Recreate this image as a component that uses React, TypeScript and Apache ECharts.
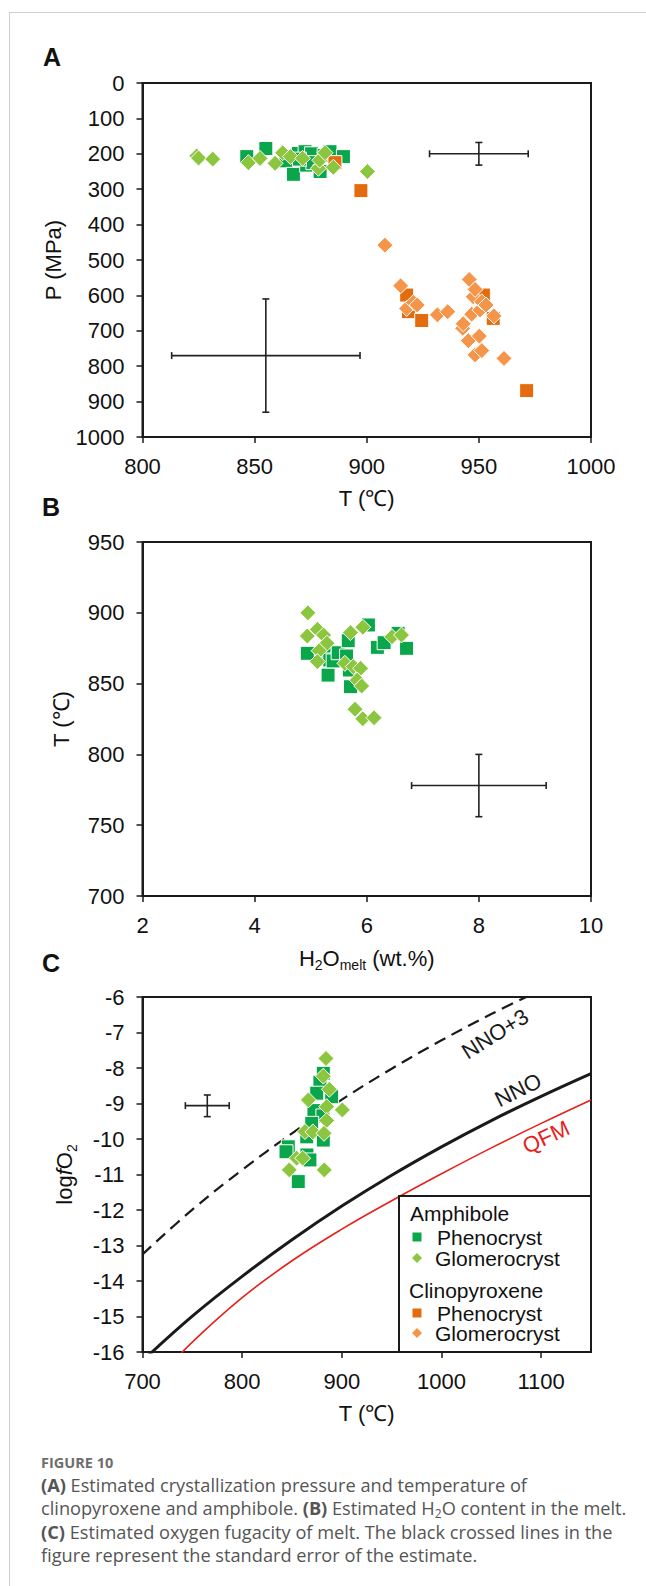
import React, { useEffect, useRef } from 'react';
import * as echarts from 'echarts';

// ---------- Panel A: T (°C) vs P (MPa) ----------
const A_amphPheno = [[846.5,208],[855,185],[864,220],[867.3,258],[869.5,199],[872.5,194],[873.2,232],[875.4,200],[876,225],[879.2,250],[881,205],[883.6,194],[889.6,208],[870,215]];
const A_amphGlom = [[824.2,206],[825,212],[831.3,215],[847.2,225],[852.4,213],[859.1,227],[862.5,197],[866,208],[871.4,213],[878.4,241],[879,218],[881.4,197],[885.1,238],[900.3,250]];
const A_cpxPheno = [[885.8,225],[897.4,304],[917.8,599],[918.6,646],[924.5,671],[952,599],[956.4,665],[971.3,869]];
const A_cpxGlom = [[908.1,458],[915.1,573],[917.8,637],[920.8,620],[922.5,627],[931.5,655],[936.1,646],[942.8,693],[943,680],[945.3,728],[945.7,555],[946.8,653],[947.5,604],[948.3,583],[948.3,768],[950.2,715],[950.5,641],[951.3,618],[951.3,756],[953.2,627],[956.7,658],[961.2,778]];
// [x, y, xLow, xHigh, yLow, yHigh]
const A_errors = [[855,770,813,897,610,930],[950,200,928,972,168,232]];

// ---------- Panel B: H2O melt (wt.%) vs T ----------
const B_amphPheno = [[4.94,871.4],[5.24,872.5],[5.31,856],[5.34,866.7],[5.4,866],[5.49,871.8],[5.64,869.5],[5.67,880.3],[5.69,859.6],[5.71,847.8],[6.03,891.4],[6.19,875.6],[6.31,878.9],[6.56,885.5],[6.71,874.9]];
const B_amphGlom = [[4.95,900],[4.94,883.6],[5.12,888.3],[5.23,884.3],[5.29,878.5],[5.15,873.2],[5.12,865.5],[5.71,886],[5.93,889.8],[5.61,864.3],[5.76,862],[5.89,860.8],[5.83,852.5],[5.91,848.3],[5.79,831.9],[5.93,825.2],[6.13,825.9],[6.45,883.1],[6.62,884.3]];
const B_errors = [[8,778,6.8,9.2,756,800]];

// ---------- Panel C: T vs log fO2 ----------
const C_amphPheno = [[881.4,-8.15],[878,-8.4],[874.8,-8.71],[889.8,-8.81],[872,-9.2],[881,-9.35],[869.8,-9.56],[864.8,-9.94],[881.4,-10.03],[846.3,-10.22],[844,-10.36],[865,-10.45],[868,-10.59],[856.3,-11.2]];
const C_amphGlom = [[884.1,-7.73],[881.4,-8.23],[887.4,-8.6],[866.4,-8.9],[884.8,-9.09],[900.5,-9.18],[884.8,-9.48],[863,-9.79],[871,-9.8],[882.1,-9.84],[854.7,-10.54],[860.7,-10.54],[847.3,-10.87],[882.4,-10.87]];
const C_errors = [[765,-9.06,743,787,-8.76,-9.37]];
const NNO3 = [[700,-13.25],[750,-11.99],[800,-10.87],[850,-9.84],[900,-8.89],[950,-8.02],[1000,-7.22],[1050,-6.48],[1100,-5.8]];
const NNO = [[700,-16.25],[750,-14.99],[800,-13.87],[850,-12.84],[900,-11.89],[950,-11.02],[1000,-10.22],[1050,-9.48],[1100,-8.8],[1150,-8.16]];
const QFM = [[720,-16.6],[750,-15.72],[800,-14.47],[850,-13.43],[900,-12.54],[950,-11.74],[1000,-10.98],[1050,-10.25],[1100,-9.56],[1150,-8.9]];

const aTicksX = [800, 1000, 50];
const aTicksY = [0, 1000, 100];
const bTicksX = [2, 10, 2];
const bTicksY = [700, 950, 50];
const cTicksX = [700, 1150, 100];
const cTicksY = [-16, -6, 1];

const COL_AP = '#0aa64b';
const COL_AG = '#8cc63f';
const COL_CP = '#e46c0e';
const COL_CG = '#f5954a';
const FONT = '"Liberation Sans", Arial, sans-serif';
const INK = '#1a1a1a';

const GL = 142.5, GW = 448.5;

function axis(gridIndex: number, t: number[], extra: any = {}, hideMax = false) {
  return {
    type: 'value', gridIndex, min: t[0], max: t[1], interval: t[2],
    axisLine: { show: true, onZero: false, lineStyle: { color: INK, width: 2 } },
    axisTick: { show: true, inside: false, length: 6, lineStyle: { color: INK, width: 1.5 } },
    splitLine: { show: false },
    axisLabel: {
      color: '#111', fontSize: 22, fontFamily: FONT, margin: 18, showMaxLabel: !hideMax,
      formatter: (v: number) => String(v),
    },
    nameTextStyle: { color: '#111', fontSize: 22, fontFamily: FONT },
    ...extra,
  };
}

const sq = (data: number[][], x: number, y: number, color: string) => ({
  type: 'scatter', xAxisIndex: x, yAxisIndex: y, data, symbol: 'rect', symbolSize: 14,
  itemStyle: { color, borderColor: '#fff', borderWidth: 1, opacity: 1 }, z: 3,
});
const dm = (data: number[][], x: number, y: number, color: string) => ({
  type: 'scatter', xAxisIndex: x, yAxisIndex: y, data, symbol: 'diamond', symbolSize: 16,
  itemStyle: { color, borderColor: '#fff', borderWidth: 1, opacity: 1 }, z: 4,
});

function errRender(params: any, api: any) {
  const c = api.coord([api.value(0), api.value(1)]);
  const xl = api.coord([api.value(2), api.value(1)]);
  const xh = api.coord([api.value(3), api.value(1)]);
  const yl = api.coord([api.value(0), api.value(4)]);
  const yh = api.coord([api.value(0), api.value(5)]);
  const cap = 3.5;
  const style = { stroke: '#222', lineWidth: 1.6 };
  const ln = (x1: number, y1: number, x2: number, y2: number) => ({ type: 'line', shape: { x1, y1, x2, y2 }, style });
  return {
    type: 'group',
    children: [
      ln(xl[0], c[1], xh[0], c[1]),
      ln(c[0], yl[1], c[0], yh[1]),
      ln(xl[0], c[1] - cap, xl[0], c[1] + cap),
      ln(xh[0], c[1] - cap, xh[0], c[1] + cap),
      ln(c[0] - cap, yl[1], c[0] + cap, yl[1]),
      ln(c[0] - cap, yh[1], c[0] + cap, yh[1]),
    ],
  };
}
const err = (data: number[][], i: number) => ({
  type: 'custom', xAxisIndex: i, yAxisIndex: i, data, renderItem: errRender,
  encode: { x: 0, y: 1 }, z: 5, silent: true,
});

const sub = {
  n: { fontSize: 22, fontFamily: FONT, color: '#111' },
  i: { fontSize: 22, fontFamily: FONT, color: '#111', fontStyle: 'italic' },
  s: { fontSize: 14, fontFamily: FONT, color: '#111', padding: [14, 0, 0, 0] },
};

function legendGraphics() {
  const L = 399, T = 1196, R = 591, B = 1352;
  const txt = (x: number, y: number, text: string) => ({
    type: 'text', x, y, style: { text, fontSize: 21, fontFamily: FONT, fill: '#111', align: 'left', verticalAlign: 'middle' }, z: 20,
  });
  const square = (cx: number, cy: number, color: string) => ({ type: 'rect', shape: { x: cx - 4.5, y: cy - 4.5, width: 9, height: 9 }, style: { fill: color }, z: 20 });
  const diamond = (cx: number, cy: number, color: string) => ({ type: 'polygon', shape: { points: [[cx, cy - 5], [cx + 5, cy], [cx, cy + 5], [cx - 5, cy]] }, style: { fill: color }, z: 20 });
  return [
    { type: 'rect', shape: { x: L, y: T, width: R - L, height: B - T }, style: { fill: '#fff', stroke: INK, lineWidth: 2 }, z: 19 },
    txt(410, 1213, 'Amphibole'),
    square(417, 1237, COL_AP), txt(437, 1237, 'Phenocryst'),
    diamond(417, 1258, COL_AG), txt(435, 1258, 'Glomerocryst'),
    txt(409, 1290, 'Clinopyroxene'),
    square(417, 1313, COL_CP), txt(437, 1313, 'Phenocryst'),
    diamond(417, 1333, COL_CG), txt(435, 1333, 'Glomerocryst'),
  ];
}

export default function App() {
  const ref = useRef<HTMLDivElement>(null);
  useEffect(() => {
    if (!ref.current) return;
    const chart = echarts.init(ref.current, null, { renderer: 'svg' });
    const letter = (x: number, y: number, t: string) => ({
      type: 'text', x, y, style: { text: t, fontSize: 25, fontWeight: 'bold', fontFamily: FONT, fill: '#111', align: 'center', verticalAlign: 'middle' },
    });
    const curveLabel = (x: number, y: number, t: string, rot: number, color: string) => ({
      type: 'text', x, y, rotation: rot, style: { text: t, fontSize: 22, fontFamily: FONT, fill: color, align: 'center', verticalAlign: 'middle' }, z: 10,
    });
    chart.setOption({
      animation: false,
      backgroundColor: '#fff',
      grid: [
        { left: GL, top: 83, width: GW, height: 354, show: true, borderColor: INK, borderWidth: 2, backgroundColor: 'transparent' },
        { left: GL, top: 542, width: GW, height: 354, show: true, borderColor: INK, borderWidth: 2, backgroundColor: 'transparent' },
        { left: GL, top: 997, width: GW, height: 355, show: true, borderColor: INK, borderWidth: 2, backgroundColor: 'transparent' },
      ],
      xAxis: [
        axis(0, aTicksX, { name: 'T (℃)', nameLocation: 'middle', nameGap: 50 }),
        axis(1, bTicksX, { name: '{n|H}{s|2}{n|O}{s|melt}{n| (wt.%)}', nameLocation: 'middle', nameGap: 48, nameTextStyle: { rich: sub } }),
        axis(2, cTicksX, { name: 'T (℃)', nameLocation: 'middle', nameGap: 50 }, true),
      ],
      yAxis: [
        axis(0, aTicksY, { inverse: true, name: 'P (MPa)', nameLocation: 'middle', nameGap: 76, nameRotate: 90 }),
        axis(1, bTicksY, { name: 'T (℃)', nameLocation: 'middle', nameGap: 70, nameRotate: 90 }),
        axis(2, cTicksY, { name: '{n|log}{i|f}{n|O}{s|2}', nameLocation: 'middle', nameGap: 64, nameRotate: 90, nameTextStyle: { rich: sub } }),
      ],
      series: [
        sq(A_amphPheno, 0, 0, COL_AP),
        dm(A_amphGlom, 0, 0, COL_AG),
        sq(A_cpxPheno, 0, 0, COL_CP),
        dm(A_cpxGlom, 0, 0, COL_CG),
        err(A_errors, 0),
        sq(B_amphPheno, 1, 1, COL_AP),
        dm(B_amphGlom, 1, 1, COL_AG),
        err(B_errors, 1),
        { type: 'line', xAxisIndex: 2, yAxisIndex: 2, data: NNO3, smooth: 0.4, showSymbol: false, clip: true, lineStyle: { color: INK, width: 2.2, type: [12, 7] }, z: 2 },
        { type: 'line', xAxisIndex: 2, yAxisIndex: 2, data: NNO, smooth: 0.4, showSymbol: false, clip: true, lineStyle: { color: INK, width: 3 }, z: 2 },
        { type: 'line', xAxisIndex: 2, yAxisIndex: 2, data: QFM, smooth: 0.4, showSymbol: false, clip: true, lineStyle: { color: '#e8201a', width: 1.6 }, z: 2 },
        sq(C_amphPheno, 2, 2, COL_AP),
        dm(C_amphGlom, 2, 2, COL_AG),
        err(C_errors, 2),
      ],
      graphic: [
        letter(52, 57, 'A'),
        letter(51, 507, 'B'),
        letter(51, 963, 'C'),
        curveLabel(495, 1034, 'NNO+3', 0.56, INK),
        curveLabel(518, 1090, 'NNO', 0.46, INK),
        curveLabel(546, 1137, 'QFM', 0.44, '#e8201a'),
        ...legendGraphics(),
      ],
    });
    return () => chart.dispose();
  }, []);

  const cap: React.CSSProperties = {
    position: 'absolute', left: 41, whiteSpace: 'nowrap', fontFamily: '"Open Sans", "Noto Sans", sans-serif',
    fontSize: 18.2, color: '#555555', lineHeight: '22px',
  };
  return (
    <div style={{ position: 'absolute', left: 0, top: 0, width: 646, height: 1586, background: '#fff', overflow: 'hidden' }}>
      <div ref={ref} style={{ position: 'absolute', left: 0, top: 0, width: 646, height: 1440 }} />
      <div style={{ position: 'absolute', left: 9, top: 12, width: 700, height: 1600, borderLeft: '1px solid #cfcfcf', borderTop: '1px solid #cfcfcf', pointerEvents: 'none' }} />
      <div style={{ ...cap, top: 1453, fontSize: 14.5, lineHeight: '20px', fontWeight: 700, color: '#6e6e6e' }}>FIGURE 10</div>
      <div style={{ ...cap, top: 1474 }}><b>(A)</b> Estimated crystallization pressure and temperature of</div>
      <div style={{ ...cap, top: 1497 }}>clinopyroxene and amphibole. <b>(B)</b> Estimated H<span style={{ fontSize: 12, lineHeight: '12px', position: 'relative', top: 3 }}>2</span>O content in the melt.</div>
      <div style={{ ...cap, top: 1521 }}><b>(C)</b> Estimated oxygen fugacity of melt. The black crossed lines in the</div>
      <div style={{ ...cap, top: 1544 }}>figure represent the standard error of the estimate.</div>
    </div>
  );
}
